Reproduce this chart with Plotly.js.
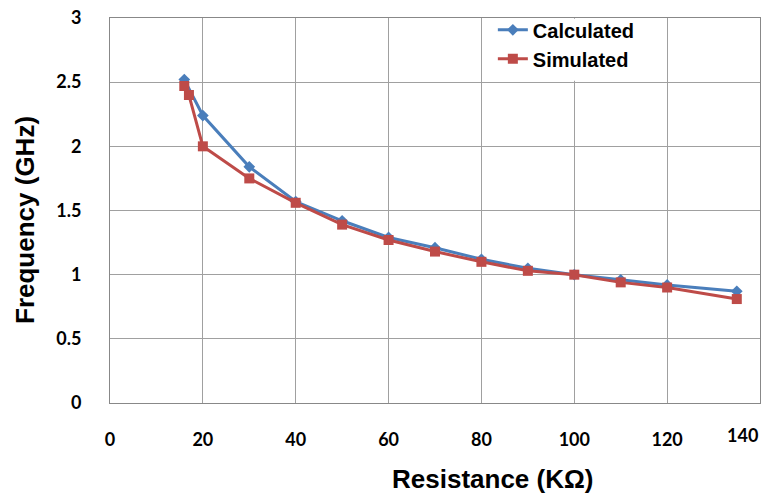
<!DOCTYPE html>
<html>
<head>
<meta charset="utf-8">
<script src="https://cdn.plot.ly/plotly-3.0.1.min.js"></script>
<style>html,body{margin:0;padding:0;background:#fff;}#chart{width:769px;height:493px;}</style>
</head>
<body>
<div id="chart"></div>
<script>
var calcR = [16, 20, 30, 40, 50, 60, 70, 80, 90, 100, 110, 120, 135];
var calcF = [2.52, 2.24, 1.84, 1.57, 1.42, 1.29, 1.21, 1.12, 1.05, 1.00, 0.96, 0.92, 0.87];
var simR = [16, 17, 20, 30, 40, 50, 60, 70, 80, 90, 100, 110, 120, 135];
var simF = [2.47, 2.40, 2.00, 1.75, 1.56, 1.39, 1.27, 1.18, 1.10, 1.03, 1.00, 0.94, 0.90, 0.81];
var xTicks = [0, 20, 40, 60, 80, 100, 120];
var yTicks = [0, 0.5, 1, 1.5, 2, 2.5, 3];
var yTickText = ['0', '0.5', '1', '1.5', '2', '2.5', '3'];

var tickFont = {family: 'Lato, "Open Sans", sans-serif', size: 18, color: '#000', weight: 'bold'};
var titleFont = {family: '"Liberation Sans", Arial, sans-serif', size: 26, color: '#000', weight: 'bold'};

var traces = [
  {x: calcR, y: calcF, name: 'Calculated', mode: 'lines+markers', legendgroup: 'a',
   line: {color: '#4a7ebb', width: 3}, marker: {symbol: 'diamond', size: 9, color: '#4a7ebb'}},
  {x: simR, y: simF, name: 'Simulated', mode: 'lines+markers', legendgroup: 'b',
   line: {color: '#be4b48', width: 3}, marker: {symbol: 'square', size: 10, color: '#be4b48'}}
];

var layout = {
  width: 769, height: 493,
  margin: {l: 110, r: 9, t: 18, b: 90},
  paper_bgcolor: '#fff', plot_bgcolor: '#fff',
  showlegend: true,
  legend: {x: 0.589, y: 1.02, xanchor: 'left', yanchor: 'top', bgcolor: 'rgba(255,255,255,0)',
           font: {family: '"Liberation Sans", Arial, sans-serif', size: 20, color: '#000', weight: 'bold'},
           tracegroupgap: 0, traceorder: 'grouped'},
  xaxis: {range: [0, 140], tickvals: xTicks, ticktext: xTicks.map(String), showgrid: true, gridcolor: '#a0a0a0', gridwidth: 1,
          showline: true, linecolor: '#888', linewidth: 1, mirror: true, zeroline: false,
          ticks: '', ticklabelstandoff: 20, tickfont: tickFont},
  yaxis: {range: [0, 3], tickvals: yTicks, ticktext: yTickText, showgrid: true, gridcolor: '#a0a0a0', gridwidth: 1,
          showline: true, linecolor: '#888', linewidth: 1, mirror: true, zeroline: false,
          ticks: '', ticklabelstandoff: 24, tickfont: tickFont},
  shapes: [
    {type: 'rect', xref: 'x', yref: 'paper', x0: 80.3, x1: 119.7, y0: 0.837, y1: 0.998, fillcolor: '#fff', line: {width: 0}, layer: 'above'}
  ],
  annotations: [
    {text: '140', xref: 'x', yref: 'paper', x: 140, y: -0.084, xanchor: 'right', yanchor: 'middle', showarrow: false, font: tickFont},
    {text: 'Resistance (KΩ)', xref: 'paper', yref: 'paper', x: 0.588, y: -0.197, xanchor: 'center', yanchor: 'middle', showarrow: false, font: titleFont},
    {text: 'Frequency (GHz)', xref: 'paper', yref: 'paper', x: -0.131, y: 0.475, xanchor: 'center', yanchor: 'middle', textangle: -90, showarrow: false, font: titleFont}
  ]
};

Plotly.newPlot('chart', traces, layout, {staticPlot: true, displayModeBar: false});
</script>
</body>
</html>
